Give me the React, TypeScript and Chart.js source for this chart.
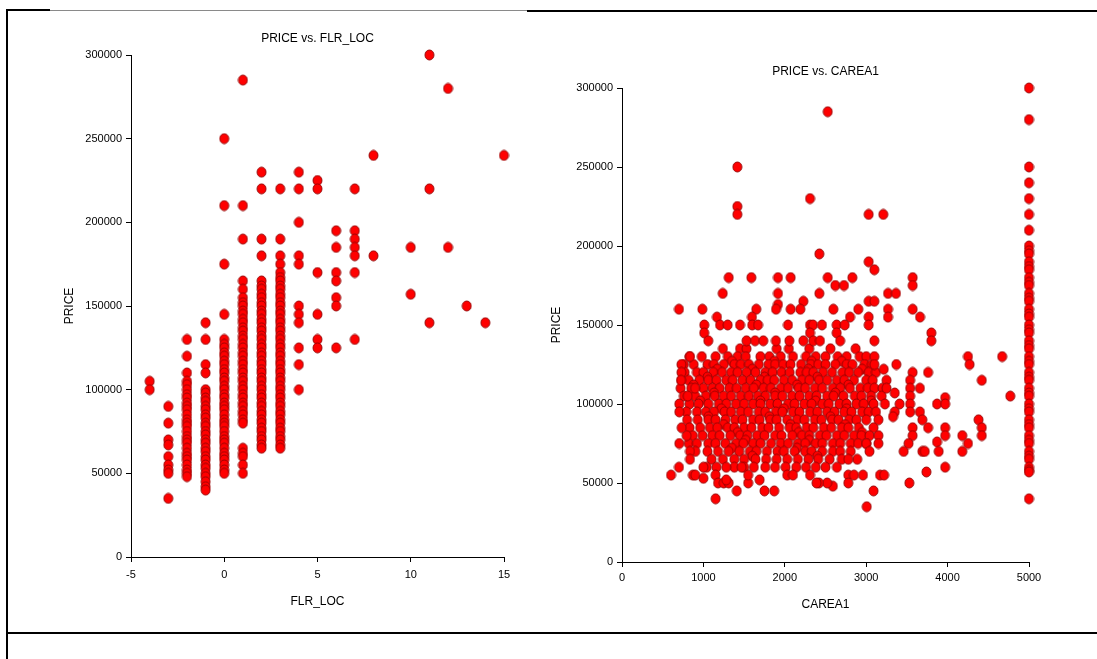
import React, { useEffect, useRef } from "react";
import { Chart, registerables } from "chart.js";
Chart.register(...registerables);

// ---------------- Left chart: PRICE vs. FLR_LOC ----------------
const FLR_TICKS = [-5, 0, 5, 10, 15];
const FLR_LEVELS = [-4, -3, -2, -1, 0, 1, 2, 3, 4, 5, 6, 7, 8, 10, 11, 12, 13, 14, 15];
const PRICE_FLR_M4 = [105000, 100000];
const PRICE_FLR_M3 = [90000, 80000, 70000, 67000, 60000, 55000, 52000, 50000, 35000];
const PRICE_FLR_M2 = [130000, 120000, 110000, 105000, 103000, 100000, 97000, 95000, 92000, 90000, 88000, 85000, 82000, 80000, 78000, 75000, 72000, 70000, 68000, 65000, 62000, 60000, 58000, 55000, 52000, 50000, 48000];
const PRICE_FLR_M1 = [140000, 130000, 115000, 110000, 100000, 98000, 95000, 93000, 90000, 88000, 85000, 83000, 80000, 78000, 75000, 73000, 70000, 68000, 65000, 63000, 60000, 58000, 55000, 53000, 50000, 48000, 45000, 42000, 40000];
const PRICE_FLR_0 = [250000, 210000, 175000, 145000, 130000, 127000, 125000, 122000, 120000, 117000, 115000, 112000, 110000, 107000, 105000, 102000, 100000, 97000, 95000, 92000, 90000, 88000, 85000, 82000, 80000, 78000, 75000, 72000, 70000, 68000, 65000, 62000, 60000, 58000, 55000, 52000, 50000];
const PRICE_FLR_1 = [285000, 210000, 190000, 165000, 160000, 155000, 152000, 150000, 147000, 145000, 142000, 140000, 137000, 135000, 132000, 130000, 127000, 125000, 122000, 120000, 117000, 115000, 112000, 110000, 107000, 105000, 102000, 100000, 97000, 95000, 92000, 90000, 87000, 85000, 82000, 80000, 65000, 62000, 60000, 55000, 50000];
const PRICE_FLR_2 = [230000, 220000, 190000, 180000, 165000, 162000, 160000, 157000, 155000, 152000, 150000, 147000, 145000, 142000, 140000, 137000, 135000, 132000, 130000, 127000, 125000, 122000, 120000, 117000, 115000, 112000, 110000, 107000, 105000, 102000, 100000, 97000, 95000, 92000, 90000, 87000, 85000, 82000, 80000, 77000, 75000, 72000, 70000, 67000, 65000];
const PRICE_FLR_3 = [220000, 190000, 180000, 175000, 170000, 167000, 165000, 162000, 160000, 157000, 155000, 152000, 150000, 147000, 145000, 142000, 140000, 137000, 135000, 132000, 130000, 127000, 125000, 122000, 120000, 117000, 115000, 112000, 110000, 107000, 105000, 102000, 100000, 97000, 95000, 92000, 90000, 87000, 85000, 82000, 80000, 77000, 75000, 72000, 70000, 67000, 65000];
const PRICE_FLR_4 = [230000, 220000, 200000, 180000, 175000, 150000, 145000, 140000, 125000, 115000, 100000];
const PRICE_FLR_5 = [225000, 220000, 170000, 145000, 130000, 125000];
const PRICE_FLR_6 = [195000, 185000, 170000, 165000, 155000, 150000, 125000];
const PRICE_FLR_7 = [220000, 195000, 190000, 185000, 180000, 170000, 130000];
const PRICE_FLR_8 = [240000, 180000];
const PRICE_FLR_10 = [185000, 157000];
const PRICE_FLR_11 = [300000, 220000, 140000];
const PRICE_FLR_12 = [280000, 185000];
const PRICE_FLR_13 = [150000];
const PRICE_FLR_14 = [140000];
const PRICE_FLR_15 = [240000];
const FLR_PRICE_COLUMNS = [PRICE_FLR_M4, PRICE_FLR_M3, PRICE_FLR_M2, PRICE_FLR_M1, PRICE_FLR_0, PRICE_FLR_1, PRICE_FLR_2, PRICE_FLR_3, PRICE_FLR_4, PRICE_FLR_5, PRICE_FLR_6, PRICE_FLR_7, PRICE_FLR_8, PRICE_FLR_10, PRICE_FLR_11, PRICE_FLR_12, PRICE_FLR_13, PRICE_FLR_14, PRICE_FLR_15];

// ---------------- Right chart: PRICE vs. CAREA1 ----------------
const CAREA_TICKS = [0, 1000, 2000, 3000, 4000, 5000];
const PRICE_TICKS = [0, 50000, 100000, 150000, 200000, 250000, 300000];

// dense core, one list of CAREA1 values per price level
const CORE_135K = [1240, 1450, 1530, 1900, 2050, 2300, 2560, 2870];
const CORE_130K = [830, 980, 1150, 1300, 1420, 1520, 1700, 1810, 1950, 2100, 2260, 2380, 2500, 2650, 2760, 2920, 3000];
const CORE_127K = [1350, 1870, 2330, 2700];
const CORE_125K = [760, 880, 1050, 1130, 1250, 1380, 1460, 1560, 1680, 1800, 1880, 1980, 2070, 2200, 2320, 2410, 2500, 2620, 2760, 2830, 2980, 3070];
const CORE_122K = [1170, 1600, 2290, 2950];
const CORE_120K = [770, 920, 1000, 1120, 1230, 1340, 1420, 1530, 1640, 1760, 1850, 1960, 2060, 2190, 2270, 2350, 2470, 2580, 2710, 2790, 2900, 3030, 3120];
const CORE_117K = [1050, 1750, 2400];
const CORE_115K = [730, 820, 950, 1060, 1160, 1280, 1360, 1480, 1580, 1700, 1790, 1870, 1990, 2090, 2210, 2300, 2420, 2520, 2640, 2730, 2850, 3000, 3080];
const CORE_112K = [880, 1650, 2150, 2780];
const CORE_110K = [720, 850, 1000, 1110, 1200, 1320, 1410, 1520, 1620, 1740, 1830, 1950, 2040, 2170, 2250, 2370, 2460, 2590, 2680, 2800, 2930, 3020, 3100, 3200];
const CORE_107K = [1130, 1880, 2620];
const CORE_105K = [760, 900, 1030, 1140, 1250, 1340, 1460, 1560, 1670, 1760, 1880, 1970, 2090, 2180, 2300, 2390, 2520, 2600, 2720, 2860, 2940, 3060, 3190];
const CORE_102K = [960, 1700, 2380, 3060];
const CORE_100K = [830, 940, 1060, 1190, 1280, 1400, 1500, 1610, 1700, 1820, 1910, 2040, 2120, 2240, 2330, 2460, 2540, 2670, 2760, 2880, 2970, 3090, 3230];
const CORE_97K = [1220, 1990, 2760];
const CORE_95K = [790, 920, 1030, 1130, 1260, 1340, 1460, 1550, 1680, 1760, 1890, 1970, 2100, 2180, 2310, 2400, 2520, 2610, 2730, 2820, 2950, 3030, 3120];
const CORE_92K = [1060, 1810, 2560];
const CORE_90K = [800, 930, 1060, 1150, 1270, 1390, 1480, 1610, 1690, 1820, 1900, 2030, 2150, 2240, 2370, 2450, 2580, 2660, 2790, 2880, 3000, 3150];
const CORE_87K = [1250, 2070, 2740];
const CORE_85K = [830, 960, 1080, 1170, 1300, 1380, 1500, 1590, 1720, 1800, 1930, 2060, 2140, 2270, 2350, 2480, 2570, 2700, 2780, 2910, 3090];
const CORE_82K = [1420, 2170, 2950];
const CORE_80K = [870, 990, 1110, 1200, 1330, 1450, 1540, 1660, 1750, 1880, 1960, 2090, 2210, 2300, 2430, 2510, 2640, 2730, 2850, 2940, 3040];
const CORE_77K = [1520, 2300];
const CORE_75K = [820, 920, 1060, 1150, 1270, 1400, 1490, 1610, 1700, 1830, 1950, 2040, 2160, 2250, 2380, 2460, 2590, 2680, 2810, 2900, 3000];
const CORE_72K = [1350, 2150];
const CORE_70K = [900, 1050, 1180, 1310, 1440, 1570, 1650, 1780, 1910, 1990, 2120, 2250, 2330, 2460, 2590, 2680, 2810];
const CORE_67K = [1600, 2400];
const CORE_65K = [1100, 1240, 1380, 1500, 1640, 1770, 1900, 2030, 2160, 2290, 2410, 2550, 2700];
const CORE_60K = [1040, 1160, 1380, 1500, 1620, 1760, 1880, 2010, 2140, 2260, 2380, 2500, 2640];
const CORE_PRICE_LEVELS = [135000, 130000, 127000, 125000, 122000, 120000, 117000, 115000, 112000, 110000, 107000, 105000, 102000, 100000, 97000, 95000, 92000, 90000, 87000, 85000, 82000, 80000, 77000, 75000, 72000, 70000, 67000, 65000, 60000];
const CORE_ROWS = [CORE_135K, CORE_130K, CORE_127K, CORE_125K, CORE_122K, CORE_120K, CORE_117K, CORE_115K, CORE_112K, CORE_110K, CORE_107K, CORE_105K, CORE_102K, CORE_100K, CORE_97K, CORE_95K, CORE_92K, CORE_90K, CORE_87K, CORE_85K, CORE_82K, CORE_80K, CORE_77K, CORE_75K, CORE_72K, CORE_70K, CORE_67K, CORE_65K, CORE_60K];

// scattered points: [CAREA1, PRICE]
const TOP_OUTLIERS: [number, number][] = [
  [2527, 285000], [1417, 250000], [1417, 225000], [1417, 220000], [2310, 230000],
  [3030, 220000], [3210, 220000], [2424, 195000], [3030, 190000], [3100, 185000],
  [1311, 180000], [1589, 180000], [1916, 180000], [2072, 180000], [2527, 180000], [2830, 180000], [3571, 180000], [3571, 175000],
  [2621, 175000], [2727, 175000], [1237, 170000], [1916, 170000], [2424, 170000], [3268, 170000], [3366, 170000],
  [2228, 165000], [1916, 163000], [3030, 165000], [3100, 165000],
];
const UPPER_RIM: [number, number][] = [
  [700, 160000], [987, 160000], [1650, 160000], [1892, 160000], [2072, 160000], [2191, 160000], [2596, 160000], [2903, 160000], [3268, 160000], [3571, 160000],
  [1167, 155000], [1597, 155000], [2801, 155000], [3030, 155000], [3268, 155000], [3661, 155000],
  [1011, 150000], [1204, 150000], [1298, 150000], [1450, 150000], [1600, 150000], [1671, 150000], [2039, 150000], [2310, 150000], [2346, 150000], [2457, 150000], [2637, 150000], [2736, 150000], [3030, 150000],
  [1010, 145000], [2310, 145000], [2637, 145000], [3800, 145000],
  [1060, 140000], [1530, 140000], [1634, 140000], [1736, 140000], [1891, 140000], [2056, 140000], [2228, 140000], [2350, 140000], [2432, 140000], [2680, 140000], [3100, 140000], [3800, 140000],
  [835, 130000], [3100, 130000], [730, 125000], [3100, 125000], [3215, 122000], [3370, 125000], [730, 120000],
];
const RIGHT_TAIL: [number, number][] = [
  [3760, 120000], [3570, 120000], [3540, 115000], [3540, 110000], [3540, 105000], [3540, 100000], [3540, 95000], [3660, 110000],
  [3250, 115000], [3250, 110000], [3350, 107000], [3410, 100000], [3350, 95000], [3330, 92000],
  [3660, 95000], [3690, 90000], [3760, 85000], [3870, 100000], [3970, 104000], [3970, 100000],
  [3970, 85000], [3970, 80000], [3870, 76000], [3890, 70000], [3970, 60000],
  [3570, 85000], [3570, 80000], [3520, 75000], [3460, 70000], [3690, 70000], [3720, 70000], [3740, 57000], [3530, 50000],
  [4180, 80000], [4180, 70000], [4250, 75000], [4380, 90000], [4420, 85000], [4420, 80000],
  [4250, 130000], [4270, 125000], [4670, 130000], [4420, 115000], [4770, 105000],
  [3150, 80000], [3150, 75000], [3000, 75000], [3040, 70000],
];
const LOWER_RIM: [number, number][] = [
  [2890, 65000], [2960, 55000], [3090, 45000], [3006, 35000], [3170, 55000], [3220, 55000],
  [2780, 65000], [2780, 55000], [2780, 50000], [2850, 55000], [2590, 48000], [2520, 50000], [2420, 50000],
  [602, 55000], [700, 60000], [870, 55000], [900, 55000], [1000, 60000], [1000, 53000], [1150, 55000], [1150, 40000],
  [1180, 50000], [1250, 50000], [1310, 50000], [1280, 60000], [1280, 52000], [1410, 45000], [1550, 50000], [1550, 55000],
  [1750, 45000], [1870, 45000], [1690, 52000], [2030, 55000], [2100, 55000], [2310, 55000], [2390, 50000], [1470, 60000],
  [835, 70000], [835, 65000], [704, 75000], [794, 80000], [733, 85000], [704, 100000], [704, 95000], [807, 105000], [897, 110000], [725, 115000],
];
const COL_5000_PRICES = [300000, 280000, 250000, 240000, 230000, 220000, 210000, 200000, 197000, 195000, 190000, 187000, 185000, 180000, 177000, 175000, 170000, 167000, 165000, 160000, 157000, 155000, 150000, 147000, 145000, 140000, 137000, 135000, 130000, 127000, 125000, 120000, 117000, 115000, 110000, 107000, 105000, 100000, 97000, 95000, 90000, 87000, 85000, 80000, 77000, 75000, 70000, 67000, 65000, 60000, 58000, 57000, 40000];

const FONT = "'Liberation Sans', Arial, Helvetica, sans-serif";

function makeDot(): HTMLCanvasElement {
  const c = document.createElement("canvas");
  c.width = 11;
  c.height = 12;
  const ctx = c.getContext("2d")!;
  ctx.beginPath();
  ctx.ellipse(5.5, 6, 4.5, 5.0, 0, 0, Math.PI * 2);
  ctx.fillStyle = "#ff0000";
  ctx.fill();
  ctx.lineWidth = 0.9;
  ctx.strokeStyle = "#8e0000";
  ctx.stroke();
  return c;
}

type Geo = {
  titlePad: { top: number; bottom: number };
  layoutPad: { left: number; right: number; top: number; bottom: number };
  yWidth: number;
  yTitlePadTop: number;
  xHeight: number;
  xTitlePadBottom: number;
  xTickPad: number;
};

function buildConfig(
  title: string,
  xTitle: string,
  points: { x: number; y: number }[],
  xMin: number,
  xMax: number,
  xStep: number,
  geo: Geo,
  dot: HTMLCanvasElement
): any {
  return {
    type: "scatter",
    data: {
      datasets: [
        {
          data: points,
          pointStyle: dot,
          pointRadius: 5,
          pointHoverRadius: 5,
          clip: false,
        },
      ],
    },
    options: {
      responsive: false,
      animation: false,
      events: [],
      layout: { padding: geo.layoutPad },
      plugins: {
        legend: { display: false },
        tooltip: { enabled: false },
        title: {
          display: true,
          text: title,
          fullSize: false,
          color: "#000",
          font: { family: FONT, size: 12, weight: "normal" },
          padding: geo.titlePad,
        },
      },
      scales: {
        x: {
          type: "linear",
          min: xMin,
          max: xMax,
          afterFit: (s: any) => {
            s.height = geo.xHeight;
          },
          ticks: {
            stepSize: xStep,
            color: "#000",
            padding: geo.xTickPad,
            maxRotation: 0,
            font: { family: FONT, size: 11 },
            callback: (v: any) => String(v),
          },
          grid: { drawOnChartArea: false, drawTicks: true, tickLength: 5, color: "#000", lineWidth: 1 },
          border: { display: true, color: "#000", width: 1 },
          title: {
            display: true,
            text: xTitle,
            color: "#000",
            font: { family: FONT, size: 12 },
            padding: { top: 0, bottom: geo.xTitlePadBottom },
          },
        },
        y: {
          type: "linear",
          min: PRICE_TICKS[0],
          max: PRICE_TICKS[PRICE_TICKS.length - 1],
          afterFit: (s: any) => {
            s.width = geo.yWidth;
          },
          ticks: {
            stepSize: PRICE_TICKS[1] - PRICE_TICKS[0],
            color: "#000",
            padding: 4,
            font: { family: FONT, size: 11 },
            callback: (v: any) => String(v),
          },
          grid: { drawOnChartArea: false, drawTicks: true, tickLength: 5, color: "#000", lineWidth: 1 },
          border: { display: true, color: "#000", width: 1 },
          title: {
            display: true,
            text: "PRICE",
            color: "#000",
            font: { family: FONT, size: 12 },
            padding: { top: geo.yTitlePadTop, bottom: 0 },
          },
        },
      },
    },
  };
}

export default function App() {
  const leftRef = useRef<HTMLCanvasElement>(null);
  const rightRef = useRef<HTMLCanvasElement>(null);

  useEffect(() => {
    const dot = makeDot();

    const flrPoints: { x: number; y: number }[] = [];
    FLR_LEVELS.forEach((lvl, i) => {
      FLR_PRICE_COLUMNS[i].forEach((p) => flrPoints.push({ x: lvl, y: p }));
    });

    const careaPoints: { x: number; y: number }[] = [];
    CORE_ROWS.forEach((row, i) => {
      row.forEach((c) => careaPoints.push({ x: c, y: CORE_PRICE_LEVELS[i] }));
    });
    [TOP_OUTLIERS, UPPER_RIM, RIGHT_TAIL, LOWER_RIM].forEach((list) =>
      list.forEach(([c, p]) => careaPoints.push({ x: c, y: p }))
    );
    COL_5000_PRICES.forEach((p) => careaPoints.push({ x: CAREA_TICKS[CAREA_TICKS.length - 1], y: p }));

    const left = new Chart(
      leftRef.current!,
      buildConfig(
        "PRICE vs. FLR_LOC",
        "FLR_LOC",
        flrPoints,
        FLR_TICKS[0],
        FLR_TICKS[FLR_TICKS.length - 1],
        FLR_TICKS[1] - FLR_TICKS[0],
        {
          titlePad: { top: 11.8, bottom: 8.8 },
          layoutPad: { left: 10, right: 16, top: 0, bottom: 5 },
          yWidth: 101,
          yTitlePadTop: 32.8,
          xHeight: 58,
          xTitlePadBottom: 5.8,
          xTickPad: 6,
        },
        dot
      )
    );
    const right = new Chart(
      rightRef.current!,
      buildConfig(
        "PRICE vs. CAREA1",
        "CAREA1",
        careaPoints,
        CAREA_TICKS[0],
        CAREA_TICKS[CAREA_TICKS.length - 1],
        CAREA_TICKS[1] - CAREA_TICKS[0],
        {
          titlePad: { top: 44.8, bottom: 8.8 },
          layoutPad: { left: 5, right: 61, top: 0, bottom: 5 },
          yWidth: 77,
          yTitlePadTop: 4.8,
          xHeight: 53,
          xTitlePadBottom: 2.8,
          xTickPad: 4,
        },
        dot
      )
    );
    return () => {
      left.destroy();
      right.destroy();
    };
  }, []);

  const line = (l: number, t: number, w: number, h: number, c = "#000"): React.CSSProperties => ({
    position: "absolute",
    left: l,
    top: t,
    width: w,
    height: h,
    background: c,
  });

  return (
    <div style={{ position: "absolute", left: 0, top: 0, width: 1097, height: 659, background: "#fff", overflow: "hidden" }}>
      <canvas ref={leftRef} width={500} height={600} style={{ position: "absolute", left: 20, top: 20 }} />
      <canvas ref={rightRef} width={550} height={600} style={{ position: "absolute", left: 540, top: 20 }} />
      <div style={line(6, 9, 2, 650)} />
      <div style={line(6, 9, 44, 2)} />
      <div style={line(50, 10, 477, 1, "#8a8a8a")} />
      <div style={line(527, 10, 570, 2)} />
      <div style={line(6, 632, 1091, 2)} />
    </div>
  );
}
